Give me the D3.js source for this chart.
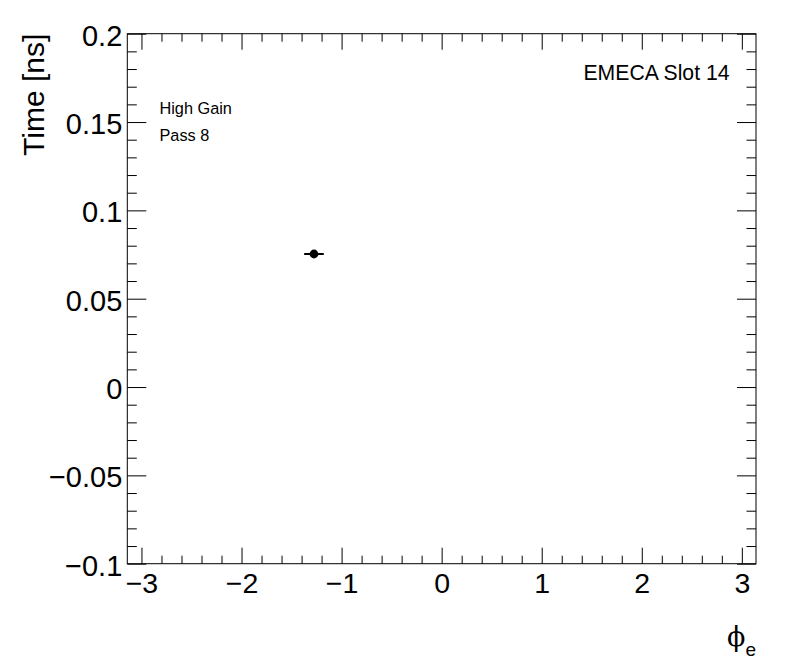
<!DOCTYPE html>
<html>
<head>
<meta charset="utf-8">
<script src="https://cdn.jsdelivr.net/npm/d3@7"></script>
<style>
  html, body { margin: 0; padding: 0; background: #fff; }
  svg { display: block; font-family: "Liberation Sans", Arial, sans-serif; }
</style>
</head>
<body>
<svg id="chart" width="796" height="672"></svg>
<script>
// data
var phiVals = [-1.276];
var timeVals = [0.0753];
var phiErr = [0.098];
var timeErr = [0.0012];

var xMajor = [-3, -2, -1, 0, 1, 2, 3];
var yMajor = [-0.1, -0.05, 0, 0.05, 0.1, 0.15, 0.2];
var yLabels = ["\u22120.1", "\u22120.05", "0", "0.05", "0.1", "0.15", "0.2"];
var xLabels = ["\u22123", "\u22122", "\u22121", "0", "1", "2", "3"];

var width = 796, height = 672;
var frameL = 127.3, frameR = 756, frameT = 33.7, frameB = 563.7;

var svg = d3.select("#chart");

var x = d3.scaleLinear().domain([-Math.PI, Math.PI]).range([frameL, frameR]);
var y = d3.scaleLinear().domain([-0.1, 0.2]).range([frameB, frameT]);

var xMinor = d3.range(-3.2, 3.21, 0.2).map(function(v){ return +v.toFixed(2); })
  .filter(function(v){ return v >= -Math.PI && v <= Math.PI && Math.abs(v - Math.round(v)) > 1e-6; });
var yMinor = d3.range(-0.1, 0.2001, 0.01).map(function(v){ return +v.toFixed(3); })
  .filter(function(v){ return Math.abs(v * 20 - Math.round(v * 20)) > 1e-6; });

function styleAxis(g) {
  g.select(".domain").remove();
  g.selectAll("line").attr("stroke", "#000").attr("stroke-width", 1);
}

// bottom axis
svg.append("g").attr("transform", "translate(0," + frameB + ")")
  .call(d3.axisBottom(x).tickValues(xMinor).tickSize(-8).tickFormat(""))
  .call(styleAxis);
var xb = svg.append("g").attr("transform", "translate(0," + frameB + ")")
  .call(d3.axisBottom(x).tickValues(xMajor).tickSize(-16)
    .tickFormat(function(d, i){ return xLabels[i]; }))
  .call(styleAxis);
xb.selectAll("text").attr("y", 29.8).attr("dy", null)
  .attr("font-size", 28.5).attr("fill", "#000")
  .attr("font-family", "Liberation Sans, Arial, sans-serif");

// top axis
svg.append("g").attr("transform", "translate(0," + frameT + ")")
  .call(d3.axisTop(x).tickValues(xMinor).tickSize(-8).tickFormat(""))
  .call(styleAxis);
svg.append("g").attr("transform", "translate(0," + frameT + ")")
  .call(d3.axisTop(x).tickValues(xMajor).tickSize(-16).tickFormat(""))
  .call(styleAxis);

// left axis
svg.append("g").attr("transform", "translate(" + frameL + ",0)")
  .call(d3.axisLeft(y).tickValues(yMinor).tickSize(-9.5).tickFormat(""))
  .call(styleAxis);
var yl = svg.append("g").attr("transform", "translate(" + frameL + ",0)")
  .call(d3.axisLeft(y).tickValues(yMajor).tickSize(-19)
    .tickFormat(function(d, i){ return yLabels[i]; }))
  .call(styleAxis);
yl.selectAll("text").attr("x", -5).attr("dy", "0.39em")
  .attr("font-size", 29).attr("fill", "#000")
  .attr("font-family", "Liberation Sans, Arial, sans-serif");

// right axis
svg.append("g").attr("transform", "translate(" + frameR + ",0)")
  .call(d3.axisRight(y).tickValues(yMinor).tickSize(-9.5).tickFormat(""))
  .call(styleAxis);
svg.append("g").attr("transform", "translate(" + frameR + ",0)")
  .call(d3.axisRight(y).tickValues(yMajor).tickSize(-19).tickFormat(""))
  .call(styleAxis);

// frame
svg.append("rect")
  .attr("x", frameL).attr("y", frameT)
  .attr("width", frameR - frameL).attr("height", frameB - frameT)
  .attr("fill", "none").attr("stroke", "#000").attr("stroke-width", 1);

// data points with error bars
var pts = phiVals.map(function(v, i){
  return { x: v, y: timeVals[i], ex: phiErr[i], ey: timeErr[i] };
});
var pg = svg.append("g");
pg.selectAll("line.ex").data(pts).enter().append("line")
  .attr("x1", function(d){ return x(d.x - d.ex); })
  .attr("x2", function(d){ return x(d.x + d.ex); })
  .attr("y1", function(d){ return y(d.y); })
  .attr("y2", function(d){ return y(d.y); })
  .attr("stroke", "#000").attr("stroke-width", 2);
pg.selectAll("line.ey").data(pts).enter().append("line")
  .attr("x1", function(d){ return x(d.x); })
  .attr("x2", function(d){ return x(d.x); })
  .attr("y1", function(d){ return y(d.y - d.ey); })
  .attr("y2", function(d){ return y(d.y + d.ey); })
  .attr("stroke", "#000").attr("stroke-width", 2);
pg.selectAll("circle").data(pts).enter().append("circle")
  .attr("cx", function(d){ return x(d.x); })
  .attr("cy", function(d){ return y(d.y); })
  .attr("r", 4.4).attr("fill", "#000");

// axis titles
svg.append("text")
  .attr("transform", "translate(43.5," + frameT + ") rotate(-90)")
  .attr("text-anchor", "end")
  .attr("font-size", 30).attr("fill", "#000")
  .text("Time [ns]");

var xt = svg.append("text")
  .attr("x", 756).attr("y", 646)
  .attr("text-anchor", "end")
  .attr("fill", "#000");
xt.append("tspan").attr("font-family", "DejaVu Serif, serif").attr("font-size", 27).text("\u03d5");
xt.append("tspan").attr("font-size", 19).attr("dy", 10).text("e");

// annotations
svg.append("text")
  .attr("x", 729.5).attr("y", 79.5)
  .attr("text-anchor", "end")
  .attr("font-size", 21.2).attr("fill", "#000")
  .text("EMECA Slot 14");
svg.append("text")
  .attr("x", 159.5).attr("y", 114)
  .attr("font-size", 16.3).attr("fill", "#000")
  .text("High Gain");
svg.append("text")
  .attr("x", 159.5).attr("y", 140.5)
  .attr("font-size", 16.3).attr("fill", "#000")
  .text("Pass 8");
</script>
</body>
</html>
